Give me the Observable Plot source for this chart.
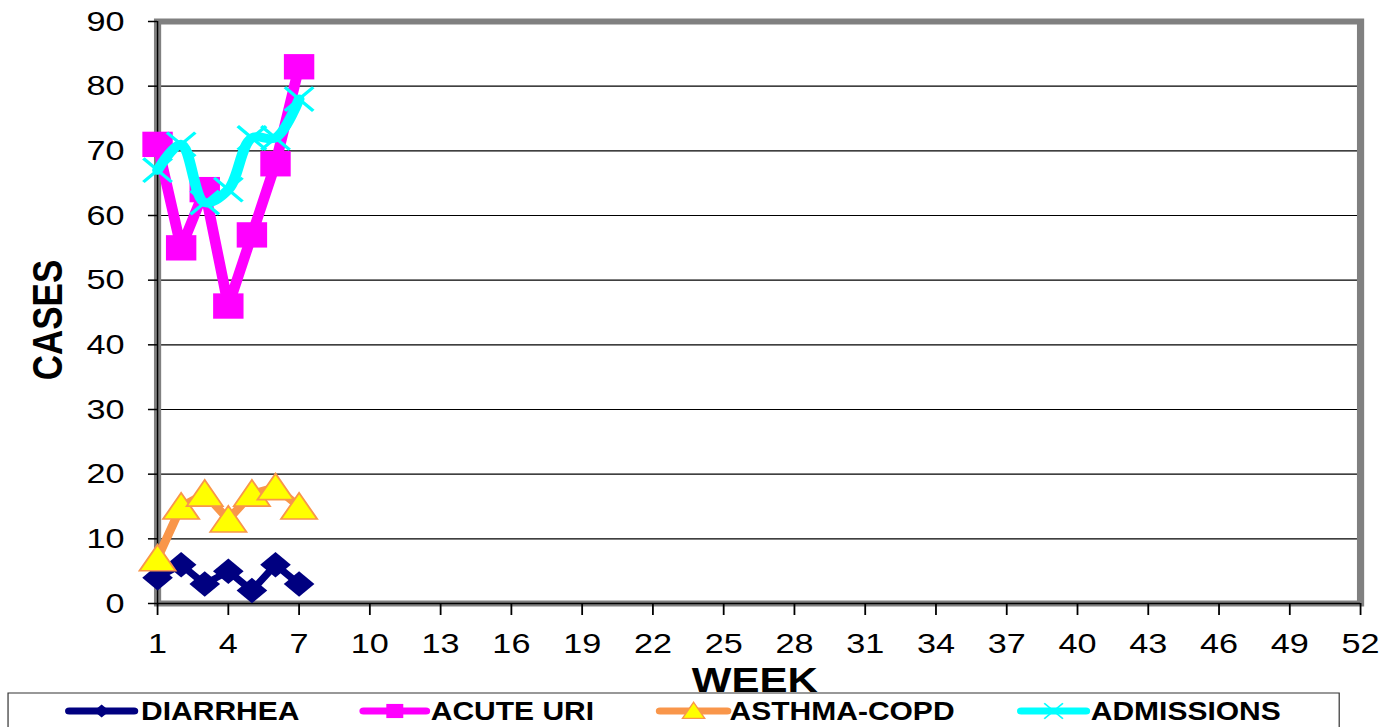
<!DOCTYPE html>
<html><head><meta charset="utf-8">
<script src="https://cdn.jsdelivr.net/npm/d3@7"></script>
<script src="https://cdn.jsdelivr.net/npm/@observablehq/plot@0.6"></script>
<style>html,body{margin:0;padding:0;background:#fff;overflow:hidden}</style>
</head><body><div id="chart"></div>
<script>
// ---- data ----
const weeks = [1, 2, 3, 4, 5, 6, 7];
const diarrhea = [4, 6, 3, 5, 2, 6, 3];
const acuteUri = [71, 55, 64, 46, 57, 68, 83];
const asthmaCopd = [7, 15, 17, 13, 17, 18, 15];
const admissions = [67, 71, 62, 64, 72, 72, 78];
const seriesNames = ["DIARRHEA", "ACUTE URI", "ASTHMA-COPD", "ADMISSIONS"];
const xTicks = [1, 4, 7, 10, 13, 16, 19, 22, 25, 28, 31, 34, 37, 40, 43, 46, 49, 52];
const yTicks = [0, 10, 20, 30, 40, 50, 60, 70, 80, 90];
const xLabel = "WEEK";
const yLabel = "CASES";

// ---- layout (the reference is stretched horizontally) ----
const W = 1398, H = 727, SX = 1.2, LW = W / SX;
const FONT = "'Liberation Sans', Arial, Helvetica, sans-serif";

const rows = (vals, name) => weeks.map((w, i) => ({week: w, value: vals[i], series: name}));
const dData = rows(diarrhea, seriesNames[0]);
const uData = rows(acuteUri, seriesNames[1]);
const aData = rows(asthmaCopd, seriesNames[2]);
const mData = rows(admissions, seriesNames[3]);

const C = {navy: "#000080", magenta: "#FF00FF", orange: "#F9964A", yellow: "#FFFF00", cyan: "#00FFFF"};

const svg = Plot.plot({
  width: LW, height: H,
  marginLeft: 130.8, marginRight: 31.7, marginTop: 21, marginBottom: 124,
  x: {domain: [1, 52]},
  y: {domain: [0, 90]},
  style: {fontFamily: FONT, fontSize: "28px", color: "#000", background: "#fff", overflow: "visible"},
  marks: [
    Plot.gridY(yTicks.slice(1), {stroke: "#000", strokeOpacity: 1, strokeWidth: 1.2}),
    Plot.frame({stroke: "#808080", strokeWidth: 6}),
    Plot.ruleY([0], {stroke: "#000", strokeWidth: 1.5}),
    Plot.ruleX([1], {stroke: "#000", strokeWidth: 1.2}),
    Plot.axisY({ticks: yTicks, tickSize: 7.5, tickPadding: 20, fontSize: 28.5, label: null, strokeWidth: 1.5}),
    Plot.axisX({ticks: xTicks, tickSize: 12, tickPadding: 17, fontSize: 28.5, label: null, strokeWidth: 1.5}),
    Plot.line(dData, {x: "week", y: "value", stroke: C.navy, strokeWidth: 6.5, strokeLinejoin: "round"}),
    Plot.dot(dData, {x: "week", y: "value", symbol: "diamond2", r: 11.5, fill: C.navy, stroke: "none"}),
    Plot.line(uData, {x: "week", y: "value", stroke: C.magenta, strokeWidth: 9, strokeLinejoin: "round"}),
    Plot.dot(uData, {x: "week", y: "value", symbol: "square", r: 14.3, fill: C.magenta, stroke: "none"}),
    Plot.line(aData, {x: "week", y: "value", stroke: C.orange, strokeWidth: 7.5, strokeLinejoin: "round"}),
    Plot.dot(aData, {x: "week", y: "value", symbol: "triangle", r: 11.2, fill: C.yellow, stroke: C.orange, strokeWidth: 1.6, dy: 3.8}),
    Plot.line(mData, {x: "week", y: "value", stroke: C.cyan, strokeWidth: 9, curve: "catmull-rom", strokeLinejoin: "round"}),
    Plot.dot(mData, {x: "week", y: "value", symbol: "times", r: 10.8, stroke: C.cyan, strokeWidth: 3, fill: "none"})
  ]
});

svg.setAttribute("width", W);
svg.setAttribute("height", H);
svg.setAttribute("viewBox", `0 0 ${LW} ${H}`);
svg.setAttribute("preserveAspectRatio", "none");
svg.style.width = W + "px";
svg.style.height = H + "px";
svg.style.maxWidth = "none";

const s = d3.select(svg);

// axis titles
s.append("text").attr("x", 629).attr("y", 692).attr("text-anchor", "middle")
  .attr("font-family", FONT).attr("font-weight", "bold").attr("font-size", 35).attr("fill", "#000").text(xLabel);
s.append("text").attr("transform", "translate(51.7,320) rotate(-90)").attr("text-anchor", "middle")
  .attr("font-family", FONT).attr("font-weight", "bold").attr("font-size", 35).attr("fill", "#000").text(yLabel);

// legend
s.append("rect").attr("x", 6.7).attr("y", 693).attr("width", 1109.3).attr("height", 60)
  .attr("fill", "none").attr("stroke", "#333").attr("stroke-width", 1);
const legendItems = [
  {name: seriesNames[0], color: C.navy, x0: 57.7, x1: 111.7, tx: 117.6, sym: d3.symbolDiamond2, size: 110, fill: C.navy, stroke: "none"},
  {name: seriesNames[1], color: C.magenta, x0: 303, x1: 355, tx: 359, sym: d3.symbolSquare, size: 200, fill: C.magenta, stroke: "none"},
  {name: seriesNames[2], color: C.orange, x0: 550, x1: 606, tx: 608, sym: d3.symbolTriangle, size: 150, fill: C.yellow, stroke: C.orange},
  {name: seriesNames[3], color: C.cyan, x0: 851, x1: 905, tx: 909, sym: d3.symbolTimes, size: 160, fill: "none", stroke: C.cyan}
];
const ly = 711;
for (const it of legendItems) {
  const g = s.append("g");
  g.append("line").attr("x1", it.x0).attr("x2", it.x1).attr("y1", ly).attr("y2", ly)
    .attr("stroke", it.color).attr("stroke-width", 7).attr("stroke-linecap", "round");
  g.append("path").attr("d", d3.symbol(it.sym, it.size)())
    .attr("transform", `translate(${(it.x0 + it.x1) / 2},${ly + (it.sym === d3.symbolTriangle ? 2 : 0)})`)
    .attr("fill", it.fill).attr("stroke", it.stroke).attr("stroke-width", it.sym === d3.symbolTimes ? 1.5 : 1.2);
  g.append("text").attr("x", it.tx).attr("y", 720).attr("text-anchor", "start").attr("font-family", FONT)
    .attr("font-weight", "bold").attr("font-size", 25).attr("fill", "#000").text(it.name);
}

document.getElementById("chart").appendChild(svg);
</script>
</body></html>
